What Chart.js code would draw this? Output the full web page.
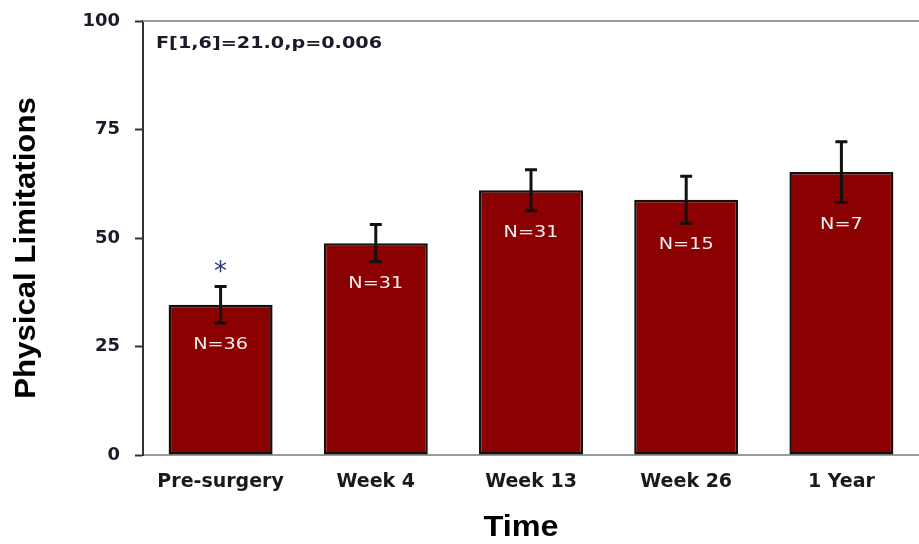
<!DOCTYPE html>
<html>
<head>
<meta charset="utf-8">
<script src="https://cdn.jsdelivr.net/npm/chart.js@4.4.1/dist/chart.umd.min.js"></script>
<style>
  html, body { margin: 0; padding: 0; background: #fff; }
  #wrap { width: 919px; height: 544px; }
</style>
</head>
<body>
<div id="wrap"><canvas id="chart" width="919" height="544"></canvas></div>
<script>
const labels = ["Pre-surgery", "Week 4", "Week 13", "Week 26", "1 Year"];
const means = [34.6, 48.8, 61.0, 58.8, 65.2];
const errors = [4.2, 4.3, 4.7, 5.4, 7.0];
const counts = ["N=36", "N=31", "N=31", "N=15", "N=7"];
const yTicks = [0, 25, 50, 75, 100];
const statText = "F[1,6]=21.0,p=0.006";
const xTitle = "Time";
const yTitle = "Physical Limitations";

// text drawn a bit wider, like the stretched original
function wideText(ctx, text, x, y, stretch) {
  ctx.save();
  ctx.translate(x, y);
  ctx.scale(stretch, 1);
  ctx.fillText(text, 0, 0);
  ctx.restore();
}

// error bars, N labels, asterisk, stat text and axis titles
const extras = {
  id: "extras",
  afterDatasetsDraw(chart) {
    const ctx = chart.ctx;
    const x = chart.scales.x;
    const y = chart.scales.y;
    const area = chart.chartArea;

    ctx.save();
    ctx.strokeStyle = "#9a9a9a";
    ctx.lineWidth = 2;
    ctx.beginPath();
    ctx.moveTo(area.left, area.top);
    ctx.lineTo(area.right, area.top);
    ctx.stroke();

    means.forEach((m, i) => {
      const cx = x.getPixelForValue(i);
      const top = y.getPixelForValue(m + errors[i]);
      const bot = y.getPixelForValue(m - errors[i]);
      ctx.strokeStyle = "#111";
      ctx.lineWidth = 3;
      ctx.beginPath();
      ctx.moveTo(cx, top);
      ctx.lineTo(cx, bot);
      ctx.moveTo(cx - 6, top);
      ctx.lineTo(cx + 6, top);
      ctx.moveTo(cx - 6, bot);
      ctx.lineTo(cx + 6, bot);
      ctx.stroke();

      ctx.fillStyle = "#f4eef0";
      ctx.font = "16px Verdana, 'DejaVu Sans', sans-serif";
      ctx.textAlign = "center";
      ctx.textBaseline = "middle";
      wideText(ctx, counts[i], cx, bot + 22, 1.2);
    });

    const ax = x.getPixelForValue(0);
    ctx.fillStyle = "#2a3a7a";
    ctx.font = "26px 'DejaVu Sans', sans-serif";
    ctx.textAlign = "center";
    ctx.textBaseline = "middle";
    ctx.fillText("*", ax, y.getPixelForValue(means[0] + errors[0]) - 13);

    ctx.fillStyle = "#1a1a2a";
    ctx.font = "bold 16px Tahoma, 'DejaVu Sans', sans-serif";
    ctx.textAlign = "left";
    wideText(ctx, statText, area.left + 13, area.top + 23, 1.2);

    ctx.fillStyle = "#000";
    ctx.font = "bold 30px Arial, 'Liberation Sans', sans-serif";
    ctx.textAlign = "center";
    wideText(ctx, xTitle, 521, 528, 1.08);
    ctx.save();
    ctx.translate(27, 248);
    ctx.rotate(-Math.PI / 2);
    ctx.scale(1.04, 1);
    ctx.fillText(yTitle, 0, 0);
    ctx.restore();
    ctx.restore();
  }
};

new Chart(document.getElementById("chart"), {
  type: "bar",
  data: {
    labels,
    datasets: [{
      data: means,
      backgroundColor: "#8b0000",
      borderColor: "#111",
      borderWidth: 2.5,
      borderSkipped: false,
      barPercentage: 0.67,
      categoryPercentage: 1.0
    }]
  },
  options: {
    responsive: false,
    animation: false,
    layout: { padding: { top: 21, right: 0, bottom: 0, left: 0 } },
    plugins: { legend: { display: false }, tooltip: { enabled: false } },
    scales: {
      x: {
        grid: { display: false },
        border: { color: "#9a9a9a", width: 2 },
        ticks: {
          color: "#1a1a1a",
          font: { family: "Tahoma, 'DejaVu Sans', sans-serif", size: 19, weight: "bold" },
          padding: 8,
          maxRotation: 0
        },
        afterFit(scale) { scale.height = 89; }
      },
      y: {
        min: 0,
        max: 100,
        afterBuildTicks(scale) { scale.ticks = yTicks.map(v => ({ value: v })); },
        grid: { drawOnChartArea: false, color: "#333", tickLength: 8, tickWidth: 2 },
        border: { color: "#333", width: 2 },
        ticks: {
          color: "#1a1a2a",
          font: { family: "Tahoma, 'DejaVu Sans', sans-serif", size: 18, weight: "bold" },
          padding: 15
        },
        afterFit(scale) {
          scale.width = 143;
          scale.paddingTop = 0;
          scale.paddingBottom = 0;
        }
      }
    }
  },
  plugins: [extras]
});
</script>
</body>
</html>
